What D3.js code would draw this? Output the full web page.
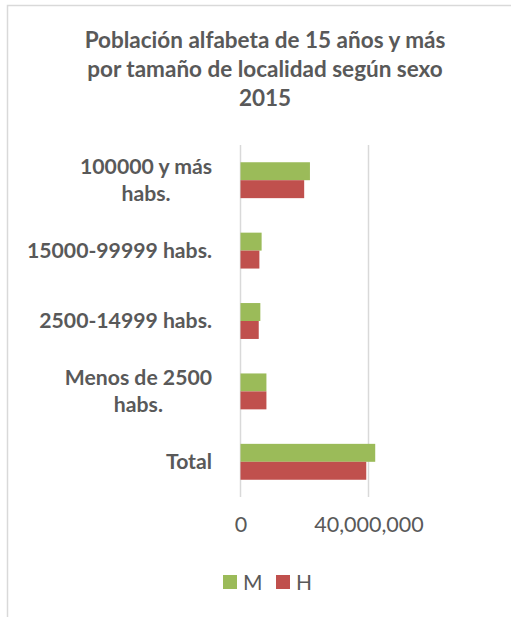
<!DOCTYPE html>
<html>
<head>
<meta charset="utf-8">
<script src="https://cdn.jsdelivr.net/npm/d3@7"></script>
<style>
  body { margin: 0; background: #fff; }
  svg { display: block; }
</style>
</head>
<body>
<script>
// Data (top to bottom)
const categories = ['100000 y más habs.', '15000-99999 habs.', '2500-14999 habs.', 'Menos de 2500 habs.', 'Total'];
const categoryLines = [['100000 y más', 'habs.'], ['15000-99999 habs.'], ['2500-14999 habs.'], ['Menos de 2500', 'habs.'], ['Total']];
const seriesNames = ['M', 'H'];
const valuesM = [21700000, 6600000, 6200000, 8100000, 42100000];
const valuesH = [19900000, 5900000, 5700000, 8100000, 39300000];
const tickValues = [0, 40000000];
const titleLines = ['Población alfabeta de 15 años y más', 'por tamaño de localidad según sexo', '2015'];

const colors = { M: '#9BBB59', H: '#C0504D' };
const textColor = '#595959';
const gridColor = '#d9d9d9';
const font = 'Lato, "Open Sans", sans-serif';

let width = 511, height = 617;

let svg = d3.select('body').append('svg')
  .attr('width', width)
  .attr('height', height);

// chart frame (right and bottom edges run off the picture)
svg.append('rect')
  .attr('x', 7.5).attr('y', 5.5)
  .attr('width', 530).attr('height', 640)
  .attr('fill', '#fff')
  .attr('stroke', gridColor)
  .attr('stroke-width', 1.5);

// title
svg.append('g').selectAll('text')
  .data(titleLines)
  .enter().append('text')
  .attr('x', 265)
  .attr('y', (d, i) => 48 + i * 29)
  .attr('text-anchor', 'middle')
  .attr('font-family', font)
  .attr('font-weight', 'bold')
  .attr('font-size', 22.5)
  .attr('fill', textColor)
  .text(d => d);

let x = d3.scaleLinear()
  .domain([0, 40000000])
  .range([240.5, 368.5]);

let y = d3.scaleBand()
  .domain(categories)
  .range([145, 497])
  .paddingInner(0.49)
  .paddingOuter(0.245);

let ySub = d3.scaleBand()
  .domain(seriesNames)
  .range([0, y.bandwidth()]);

// gridlines
svg.append('g').selectAll('line')
  .data(tickValues)
  .enter().append('line')
  .attr('x1', d => x(d)).attr('x2', d => x(d))
  .attr('y1', 145).attr('y2', 497)
  .attr('stroke', gridColor)
  .attr('stroke-width', 1.5);

// tick labels
let xAxis = svg.append('g')
  .attr('transform', 'translate(0,497)')
  .call(d3.axisBottom(x).tickValues(tickValues).tickFormat(d3.format(',')).tickSize(0).tickPadding(20));
xAxis.select('.domain').remove();
xAxis.selectAll('text')
  .attr('font-family', font)
  .attr('font-size', 21.5)
  .attr('fill', textColor);

// bars
let rows = categories.map((c, i) => ({ cat: c, M: valuesM[i], H: valuesH[i] }));
let groups = svg.append('g').selectAll('g')
  .data(rows)
  .enter().append('g')
  .attr('transform', d => 'translate(0,' + y(d.cat) + ')');

groups.selectAll('rect')
  .data(d => seriesNames.map(s => ({ s: s, v: d[s] })))
  .enter().append('rect')
  .attr('x', x(0))
  .attr('y', d => ySub(d.s))
  .attr('width', d => x(d.v) - x(0))
  .attr('height', ySub.bandwidth())
  .attr('fill', d => colors[d.s]);

// category labels
let labels = svg.append('g').selectAll('text')
  .data(categories)
  .enter().append('text')
  .attr('text-anchor', 'end')
  .attr('font-family', font)
  .attr('font-weight', 'bold')
  .attr('font-size', 21.2)
  .attr('fill', textColor);

labels.each(function(d, i) {
  let lines = categoryLines[i];
  let cy = y(d) + y.bandwidth() / 2;
  let lh = 27;
  let top = cy - (lines.length - 1) * lh / 2;
  d3.select(this).selectAll('tspan')
    .data(lines)
    .enter().append('tspan')
    .attr('x', 212)
    .attr('y', (l, j) => top + j * lh)
    .attr('dy', '0.35em')
    .text(l => l);
});

// wrapped labels: second line centred under the first
labels.each(function() {
  let tspans = d3.select(this).selectAll('tspan').nodes();
  if (tspans.length > 1) {
    let w0 = tspans[0].getComputedTextLength();
    tspans.forEach(t => {
      t.setAttribute('text-anchor', 'middle');
      t.setAttribute('x', 212 - w0 / 2);
    });
  }
});

// legend
let legend = svg.append('g').selectAll('g')
  .data(seriesNames)
  .enter().append('g')
  .attr('transform', (d, i) => 'translate(' + (223 + i * 53) + ',575)');

legend.append('rect')
  .attr('width', 14).attr('height', 14)
  .attr('fill', d => colors[d]);

legend.append('text')
  .attr('x', 20).attr('y', 14.5)
  .attr('font-family', font)
  .attr('font-size', 21)
  .attr('fill', textColor)
  .text(d => d);
</script>
</body>
</html>
